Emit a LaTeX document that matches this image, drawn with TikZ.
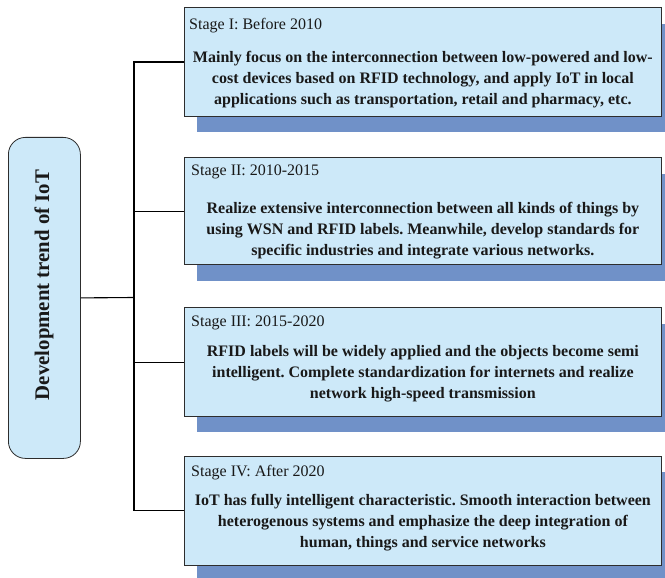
\documentclass[tikz,border=0pt]{standalone}
\usepackage{fontspec}
\setmainfont{Liberation Serif}
\usetikzlibrary{calc,shadows}
\definecolor{boxfill}{RGB}{205,233,249}
\definecolor{shadowblue}{RGB}{112,145,200}
\definecolor{edgegray}{RGB}{45,45,45}
\definecolor{inkblack}{RGB}{25,25,25}
\frenchspacing
\begin{document}
\begin{tikzpicture}[x=1pt,y=-1pt,
  stagebox/.style={draw=edgegray, line width=0.8pt, fill=boxfill, minimum width=477pt,
    inner sep=0pt, anchor=north west,
    general shadow={fill=shadowblue, shadow xshift=13pt, shadow yshift=-16pt}},
  leftbox/.style={draw=edgegray, line width=0.8pt, fill=boxfill, rounded corners=17pt,
    minimum width=72pt, minimum height=321pt, inner sep=0pt, anchor=north west},
  titletext/.style={font=\fontsize{16}{19}\selectfont, text=inkblack, inner sep=0pt, anchor=base west},
  bodytext/.style={font=\fontsize{16}{21}\selectfont\bfseries, text=inkblack, align=center,
    inner sep=0pt, anchor=north},
  lefttext/.style={font=\fontsize{20.8}{24}\selectfont\bfseries, text=inkblack, inner sep=0pt, rotate=90},
  conn/.style={draw=black, line width=1.1pt}
]
\useasboundingbox (0,0) rectangle (665,578);
\clip (0,0) rectangle (665,578);

% left box
\node[leftbox] (L) at (8,137) {};
\node[lefttext] (Lt) at (44,285) {Development trend of IoT};

% stage boxes
\node[stagebox, minimum height=108.7pt] (s1) at (184,7.3) {};
\node[stagebox, minimum height=107pt] (s2) at (184,157.3) {};
\node[stagebox, minimum height=108.7pt] (s3) at (184,307.3) {};
\node[stagebox, minimum height=109.3pt] (s4) at (184,455.7) {};

% titles
\node[titletext] (t1) at ($(s1.north west)+(5,22)$) {Stage I: Before 2010};
\node[titletext] (t2) at ($(s2.north west)+(7,18.4)$) {Stage II: 2010-2015};
\node[titletext] (t3) at ($(s3.north west)+(7,19.4)$) {Stage III: 2015-2020};
\node[titletext] (t4) at ($(s4.north west)+(7,20.3)$) {Stage IV: After 2020};

% bodies
\node[bodytext] (b1) at ($(s1.north)+(0,44)$) {Mainly focus on the interconnection between low-powered and low-\\cost devices based on RFID technology, and apply IoT in local\\applications such as transportation, retail and pharmacy, etc.};
\node[bodytext] (b2) at ($(s2.north)+(0,45)$) {Realize extensive interconnection between all kinds of things by\\using WSN and RFID labels. Meanwhile, develop standards for\\specific industries and integrate various networks.};
\node[bodytext] (b3) at ($(s3.north)+(0,37.7)$) {RFID labels will be widely applied and the objects become semi\\intelligent. Complete standardization for internets and realize\\network high-speed transmission};
\node[bodytext] (b4) at ($(s4.north)+(0,38.3)$) {IoT has fully intelligent characteristic. Smooth interaction between\\heterogenous systems and emphasize the deep integration of\\human, things and service networks};

% connectors
\coordinate (j) at (134,297.5);
\draw[conn] (L.east) -- (j);
\draw[conn] (j) |- (s1.west);
\draw[conn] (j) |- (s2.west);
\draw[conn] (j) |- (s3.west);
\draw[conn] (j) |- (s4.west);
\end{tikzpicture}
\end{document}
